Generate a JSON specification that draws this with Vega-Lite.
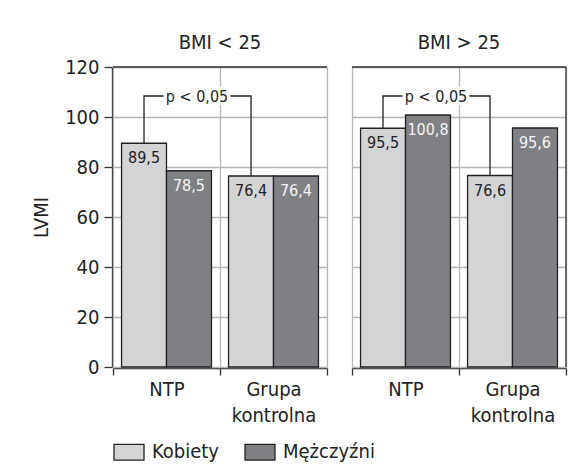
{
  "$schema": "https://vega.github.io/schema/vega-lite/v6.json",
  "padding": {"left": 31, "top": 33, "right": 10, "bottom": 5},
  "background": "white",
  "data": {
    "values": [
      {"typ": "bar", "BMI": "BMI < 25", "grupa": "NTP", "plec": "Kobiety", "LVMI": 89.5},
      {"typ": "bar", "BMI": "BMI < 25", "grupa": "NTP", "plec": "Mężczyźni", "LVMI": 78.5},
      {"typ": "bar", "BMI": "BMI < 25", "grupa": "Grupa kontrolna", "plec": "Kobiety", "LVMI": 76.4},
      {"typ": "bar", "BMI": "BMI < 25", "grupa": "Grupa kontrolna", "plec": "Mężczyźni", "LVMI": 76.4},
      {"typ": "bar", "BMI": "BMI > 25", "grupa": "NTP", "plec": "Kobiety", "LVMI": 95.5},
      {"typ": "bar", "BMI": "BMI > 25", "grupa": "NTP", "plec": "Mężczyźni", "LVMI": 100.8},
      {"typ": "bar", "BMI": "BMI > 25", "grupa": "Grupa kontrolna", "plec": "Kobiety", "LVMI": 76.6},
      {"typ": "bar", "BMI": "BMI > 25", "grupa": "Grupa kontrolna", "plec": "Mężczyźni", "LVMI": 95.6},
      {"typ": "p", "BMI": "BMI < 25", "grupa": "NTP", "plec": "Kobiety", "LVMI": 89.5, "krok": 1},
      {"typ": "p", "BMI": "BMI < 25", "grupa": "NTP", "plec": "Kobiety", "LVMI": 108.4, "krok": 2},
      {"typ": "p", "BMI": "BMI < 25", "grupa": "Grupa kontrolna", "plec": "Kobiety", "LVMI": 108.4, "krok": 3},
      {"typ": "p", "BMI": "BMI < 25", "grupa": "Grupa kontrolna", "plec": "Kobiety", "LVMI": 76.4, "krok": 4},
      {"typ": "p", "BMI": "BMI > 25", "grupa": "NTP", "plec": "Kobiety", "LVMI": 95.5, "krok": 1},
      {"typ": "p", "BMI": "BMI > 25", "grupa": "NTP", "plec": "Kobiety", "LVMI": 108.4, "krok": 2},
      {"typ": "p", "BMI": "BMI > 25", "grupa": "Grupa kontrolna", "plec": "Kobiety", "LVMI": 108.4, "krok": 3},
      {"typ": "p", "BMI": "BMI > 25", "grupa": "Grupa kontrolna", "plec": "Kobiety", "LVMI": 76.6, "krok": 4},
      {"typ": "opis", "BMI": "BMI < 25", "grupa": "NTP", "LVMI": 108.4, "tekst": "p < 0,05"},
      {"typ": "opis", "BMI": "BMI > 25", "grupa": "NTP", "LVMI": 108.4, "tekst": "p < 0,05"}
    ]
  },
  "facet": {
    "column": {
      "field": "BMI",
      "type": "nominal",
      "sort": ["BMI < 25", "BMI > 25"],
      "header": {
        "title": null,
        "labelOrient": "top",
        "labelFontSize": 20,
        "labelPadding": 13,
        "labelColor": "#222"
      }
    }
  },
  "spacing": 23,
  "spec": {
    "width": 214,
    "height": 300,
    "encoding": {
      "x": {
        "field": "grupa",
        "type": "nominal",
        "sort": ["NTP", "Grupa kontrolna"],
        "scale": {"paddingInner": 0, "paddingOuter": 0},
        "axis": {
          "title": null,
          "labelAngle": 0,
          "labelExpr": "split(datum.label, ' ')",
          "labelLineHeight": 26,
          "labelPadding": 4,
          "tickBand": "extent",
          "tickSize": 7,
          "grid": true
        }
      },
      "y": {
        "field": "LVMI",
        "type": "quantitative",
        "scale": {"domain": [0, 120], "nice": false},
        "axis": {
          "values": [0, 20, 40, 60, 80, 100, 120],
          "title": "LVMI",
          "tickSize": 8,
          "titlePadding": 13
        }
      }
    },
    "layer": [
      {
        "transform": [{"filter": "datum.typ == 'bar'"}],
        "mark": {"type": "bar", "stroke": "#222", "strokeWidth": 1.3},
        "encoding": {
          "xOffset": {
            "field": "plec",
            "type": "nominal",
            "scale": {"domain": ["Kobiety", "Mężczyźni"], "paddingInner": 0, "paddingOuter": 0.19}
          },
          "color": {
            "field": "plec",
            "type": "nominal",
            "scale": {"domain": ["Kobiety", "Mężczyźni"], "range": ["#d3d4d6", "#808185"]},
            "legend": {
              "title": null,
              "orient": "bottom",
              "direction": "horizontal",
              "symbolType": "M-1,-0.53H1V0.53H-1Z",
              "symbolSize": 900,
              "symbolStrokeColor": "#222",
              "symbolStrokeWidth": 1.3,
              "symbolOpacity": 1,
              "labelFontSize": 20,
              "labelColor": "#222",
              "labelOffset": 7,
              "columnPadding": 22,
              "offset": 11
            }
          }
        }
      },
      {
        "transform": [{"filter": "datum.typ == 'p'"}],
        "mark": {"type": "line", "color": "#222", "strokeWidth": 1.3},
        "encoding": {
          "xOffset": {"field": "plec", "type": "nominal"},
          "order": {"field": "krok", "type": "quantitative"}
        }
      },
      {
        "transform": [{"filter": "datum.typ == 'opis'"}],
        "mark": {"type": "text", "fontSize": 16, "stroke": "white", "strokeWidth": 7, "fill": "white", "baseline": "middle", "dy": 1},
        "encoding": {
          "x": {"field": "grupa", "type": "nominal", "sort": ["NTP", "Grupa kontrolna"], "bandPosition": 0.785},
          "text": {"field": "tekst"}
        }
      },
      {
        "transform": [{"filter": "datum.typ == 'opis'"}],
        "mark": {"type": "text", "fontSize": 16, "fill": "#222", "baseline": "middle", "dy": 1},
        "encoding": {
          "x": {"field": "grupa", "type": "nominal", "sort": ["NTP", "Grupa kontrolna"], "bandPosition": 0.785},
          "text": {"field": "tekst"}
        }
      },
      {
        "transform": [{"filter": "datum.typ == 'bar'"}],
        "mark": {"type": "text", "fontSize": 16, "baseline": "middle", "dy": 15},
        "encoding": {
          "xOffset": {"field": "plec", "type": "nominal"},
          "text": {"field": "LVMI", "type": "quantitative", "format": ".1f"},
          "fill": {
            "condition": {"test": "datum.plec == 'Kobiety'", "value": "#222"},
            "value": "#f4f4f4"
          }
        }
      },
      {
        "transform": [{"filter": "datum.typ == 'bar' && datum.grupa == 'NTP' && datum.plec == 'Kobiety'"}],
        "mark": {"type": "rule", "color": "#333", "strokeWidth": 1.3},
        "encoding": {
          "x": null,
          "y": {"datum": 120}
        }
      },
      {
        "transform": [{"filter": "datum.typ == 'bar' && datum.BMI == 'BMI > 25' && datum.grupa == 'Grupa kontrolna' && datum.plec == 'Kobiety'"}],
        "mark": {"type": "rule", "color": "#333", "strokeWidth": 1.3},
        "encoding": {
          "x": {"field": "grupa", "type": "nominal", "sort": ["NTP", "Grupa kontrolna"], "bandPosition": 1},
          "y": {"datum": 0},
          "y2": {"datum": 120}
        }
      }
    ]
  },
  "config": {
    "font": "Liberation Sans Narrow, DejaVu Sans Condensed, sans-serif",
    "locale": {
      "number": {"decimal": ",", "thousands": " ", "grouping": [3], "currency": ["", ""]}
    },
    "view": {"stroke": null},
    "axis": {
      "labelFontSize": 20,
      "titleFontSize": 20,
      "titleFontWeight": "normal",
      "labelColor": "#222",
      "titleColor": "#222",
      "domainColor": "#333",
      "domainWidth": 1.3,
      "tickColor": "#333",
      "tickWidth": 1.3,
      "gridColor": "#b5b5b5",
      "gridWidth": 1.3,
      "gridOpacity": 1,
      "labelPadding": 5
    }
  }
}
